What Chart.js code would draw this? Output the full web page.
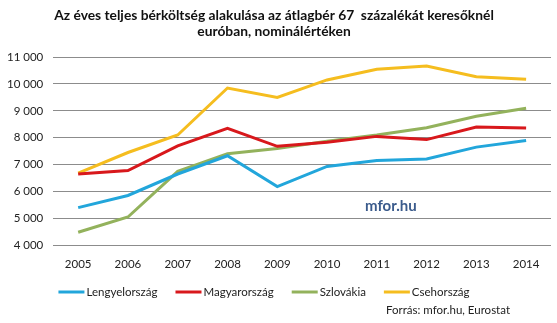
<!DOCTYPE html>
<html>
<head>
<meta charset="utf-8">
<script src="https://cdn.jsdelivr.net/npm/chart.js@4"></script>
<style>
  html, body { margin: 0; padding: 0; background: #fff; }
  #wrap { width: 557px; height: 323px; position: relative; }
</style>
</head>
<body>
<div id="wrap"><canvas id="c" width="557" height="323"></canvas></div>
<script>
// Éves teljes bérköltség, euró (nominális)
const years = ['2005','2006','2007','2008','2009','2010','2011','2012','2013','2014'];
const lengyelorszag = [5400, 5850, 6650, 7330, 6180, 6930, 7150, 7210, 7650, 7900];
const magyarorszag  = [6650, 6780, 7700, 8350, 7680, 7830, 8050, 7930, 8400, 8360];
const szlovakia     = [4480, 5050, 6750, 7400, 7600, 7870, 8100, 8375, 8800, 9100];
const csehorszag    = [6680, 7450, 8100, 9850, 9500, 10150, 10550, 10670, 10270, 10180];
const yTicks = [4000, 5000, 6000, 7000, 8000, 9000, 10000, 11000];

const FONT = 'Lato, "Open Sans", sans-serif';

function fmt(v) {
  return String(v).replace(/\B(?=(\d{3})+(?!\d))/g, ' ');
}

// Legend row, watermark and source line drawn below/over the plot
const extraText = {
  id: 'extraText',
  afterDraw(chart) {
    const ctx = chart.ctx;
    ctx.save();

    // legend: short coloured line followed by the series name
    ctx.font = '11.5px ' + FONT;
    ctx.textBaseline = 'middle';
    ctx.textAlign = 'left';
    const lineW = 26, gapIn = 2, gapOut = 18, rowY = 292;
    const items = chart.data.datasets.map(d => ({
      label: d.label, color: d.borderColor,
      w: lineW + gapIn + ctx.measureText(d.label).width
    }));
    const total = items.reduce((s, it) => s + it.w, 0) + gapOut * (items.length - 1);
    let x = 264 - total / 2;
    items.forEach(it => {
      ctx.strokeStyle = it.color;
      ctx.lineWidth = 3;
      ctx.beginPath();
      ctx.moveTo(x, rowY);
      ctx.lineTo(x + lineW, rowY);
      ctx.stroke();
      ctx.fillStyle = '#222';
      ctx.fillText(it.label, x + lineW + gapIn, rowY);
      x += it.w + gapOut;
    });

    ctx.fillStyle = '#3b5b8c';
    ctx.font = 'bold 15px ' + FONT;
    ctx.fillText('mfor.hu', 365, 206);

    ctx.fillStyle = '#222';
    ctx.font = '11.5px ' + FONT;
    ctx.textAlign = 'right';
    ctx.fillText('Forrás: mfor.hu, Eurostat', 510, 310);
    ctx.restore();
  }
};

function ds(label, data, color) {
  return {
    label, data,
    borderColor: color,
    backgroundColor: color,
    borderWidth: 3,
    pointRadius: 0,
    tension: 0,
    fill: false
  };
}

new Chart(document.getElementById('c'), {
  type: 'line',
  data: {
    labels: years,
    datasets: [
      ds('Lengyelország', lengyelorszag, '#22a6db'),
      ds('Magyarország', magyarorszag, '#d8181c'),
      ds('Szlovákia', szlovakia, '#93b25c'),
      ds('Csehország', csehorszag, '#f5bd1f')
    ]
  },
  options: {
    responsive: false,
    animation: false,
    devicePixelRatio: 1,
    layout: { padding: { left: -3, right: 6, top: 0, bottom: 40 } },
    plugins: {
      title: {
        display: true,
        text: ['Az éves teljes bérköltség alakulása az átlagbér 67  százalékát keresőknél', 'euróban, nominálértéken'],
        font: { family: FONT, size: 13.8, weight: 'bold' },
        color: '#111',
        padding: { top: 7, bottom: 17 },
        lineHeight: 1.3
      },
      legend: { display: false },
      tooltip: { enabled: false }
    },
    scales: {
      x: {
        offset: true,
        grid: { display: false, drawTicks: false },
        border: { display: false },
        ticks: { font: { family: FONT, size: 11.5 }, color: '#222', padding: 12 }
      },
      y: {
        min: 4000,
        max: 11000,
        afterBuildTicks(axis) { axis.ticks = yTicks.map(v => ({ value: v })); },
        grid: { color: '#8c8c8c', lineWidth: 1, drawTicks: false },
        border: { display: false },
        ticks: {
          font: { family: FONT, size: 11.5 }, color: '#222', padding: 10,
          callback: v => fmt(v)
        }
      }
    }
  },
  plugins: [extraText]
});
</script>
</body>
</html>
